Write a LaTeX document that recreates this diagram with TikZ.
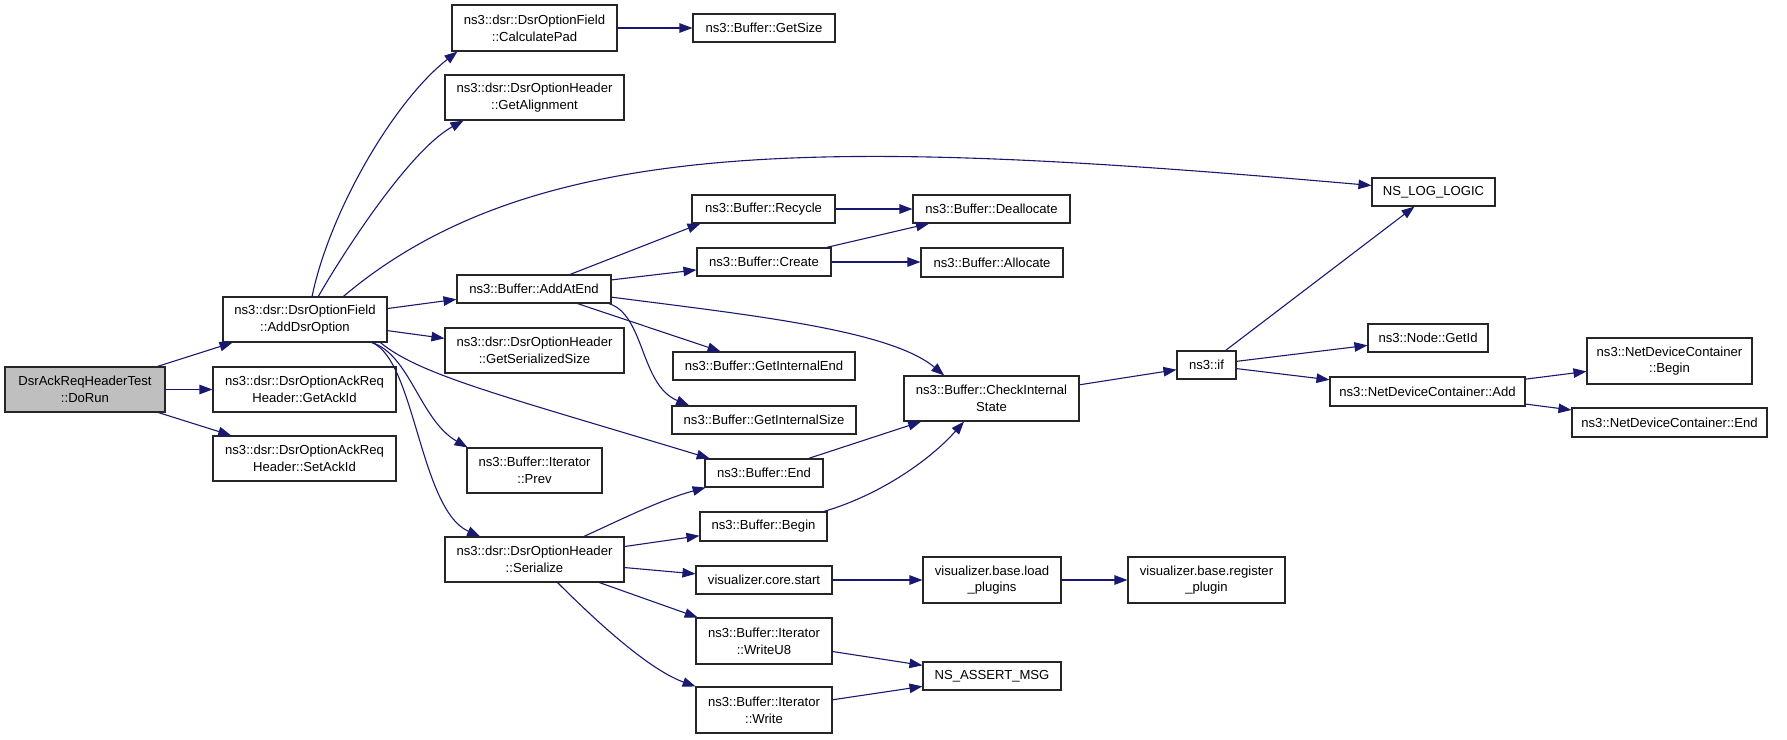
\documentclass[tikz,border=0pt]{standalone}
\usepackage{fontspec}
\setmainfont{Liberation Sans}
\usetikzlibrary{arrows.meta}
\definecolor{edgecol}{HTML}{191970}
\definecolor{rootfill}{HTML}{BFBFBF}
\begin{document}
\begin{tikzpicture}[x=1pt,y=-1pt,
  fn/.style={draw=black!85, line width=1.1pt, fill=white, inner sep=0pt, align=center,
             font=\fontsize{13.1}{16.7}\selectfont},
  root/.style={fn, fill=rootfill},
  call/.style={draw=edgecol, line width=1.1pt, -{Triangle[length=13pt,width=9.5pt,fill=edgecol]}}]
\useasboundingbox (0,0) rectangle (1787,739);

% nodes
\node[root, minimum width=160pt, minimum height=45pt] (dorun) at (85,389.5) {DsrAckReqHeaderTest\\::DoRun};
\node[fn, minimum width=164pt, minimum height=45pt] (add) at (305,319.5) {ns3::dsr::DsrOptionField\\::AddDsrOption};
\node[fn, minimum width=183pt, minimum height=45pt] (getack) at (304.5,389.5) {ns3::dsr::DsrOptionAckReq\\Header::GetAckId};
\node[fn, minimum width=183pt, minimum height=45pt] (setack) at (304.5,458.5) {ns3::dsr::DsrOptionAckReq\\Header::SetAckId};
\node[fn, minimum width=165pt, minimum height=46pt] (calcpad) at (534.5,28) {ns3::dsr::DsrOptionField\\::CalculatePad};
\node[fn, minimum width=142pt, minimum height=28pt] (getsize) at (764,28) {ns3::Buffer::GetSize};
\node[fn, minimum width=179pt, minimum height=45pt] (getalign) at (534.5,97.5) {ns3::dsr::DsrOptionHeader\\::GetAlignment};
\node[fn, minimum width=154pt, minimum height=28pt] (addatend) at (534,289) {ns3::Buffer::AddAtEnd};
\node[fn, minimum width=179pt, minimum height=45pt] (getser) at (534.5,350.5) {ns3::dsr::DsrOptionHeader\\::GetSerializedSize};
\node[fn, minimum width=135pt, minimum height=45pt] (prev) at (534.5,470.5) {ns3::Buffer::Iterator\\::Prev};
\node[fn, minimum width=179pt, minimum height=45pt] (serialize) at (534.5,559.5) {ns3::dsr::DsrOptionHeader\\::Serialize};
\node[fn, minimum width=143pt, minimum height=28pt] (recycle) at (763.5,209) {ns3::Buffer::Recycle};
\node[fn, minimum width=134pt, minimum height=28pt] (create) at (764,262) {ns3::Buffer::Create};
\node[fn, minimum width=182pt, minimum height=28pt] (getintend) at (764,366) {ns3::Buffer::GetInternalEnd};
\node[fn, minimum width=184pt, minimum height=28pt] (getintsize) at (764,420) {ns3::Buffer::GetInternalSize};
\node[fn, minimum width=118pt, minimum height=28pt] (end) at (764,473) {ns3::Buffer::End};
\node[fn, minimum width=127pt, minimum height=29pt] (begin) at (763.5,526.5) {ns3::Buffer::Begin};
\node[fn, minimum width=136pt, minimum height=28pt] (corestart) at (764,580) {visualizer.core.start};
\node[fn, minimum width=136pt, minimum height=46pt] (writeu8) at (764,641) {ns3::Buffer::Iterator\\::WriteU8};
\node[fn, minimum width=136pt, minimum height=46pt] (write) at (764,710) {ns3::Buffer::Iterator\\::Write};
\node[fn, minimum width=157pt, minimum height=28pt] (dealloc) at (991.5,209) {ns3::Buffer::Deallocate};
\node[fn, minimum width=142pt, minimum height=29pt] (alloc) at (992,262.5) {ns3::Buffer::Allocate};
\node[fn, minimum width=175pt, minimum height=45pt] (check) at (991.5,398.5) {ns3::Buffer::CheckInternal\\State};
\node[fn, minimum width=138pt, minimum height=46pt] (loadpl) at (992,580) {visualizer.base.load\\\_plugins};
\node[fn, minimum width=138pt, minimum height=28pt] (assert) at (992,676) {NS\_ASSERT\_MSG};
\node[fn, minimum width=59pt, minimum height=28pt] (nsif) at (1206.5,365) {ns3::if};
\node[fn, minimum width=157pt, minimum height=46pt] (register) at (1206.5,580) {visualizer.base.register\\\_plugin};
\node[fn, minimum width=123pt, minimum height=28pt] (nslog) at (1433.5,192) {NS\_LOG\_LOGIC};
\node[fn, minimum width=120pt, minimum height=28pt] (getid) at (1428,338) {ns3::Node::GetId};
\node[fn, minimum width=195pt, minimum height=29pt] (ndcadd) at (1427.5,391.5) {ns3::NetDeviceContainer::Add};
\node[fn, minimum width=165pt, minimum height=46pt] (ndcbegin) at (1669.5,361) {ns3::NetDeviceContainer\\::Begin};
\node[fn, minimum width=195pt, minimum height=29pt] (ndcend) at (1669.5,422.5) {ns3::NetDeviceContainer::End};

% edges
\draw[call] (dorun) -- (add);
\draw[call] (dorun) -- (getack);
\draw[call] (dorun) -- (setack);

\draw[call] (add.73) .. controls (330,210) and (395,100) .. (calcpad.197);
\draw[call] (add.60) .. controls (345,250) and (410,150) .. (getalign.198);
\draw[call] (add.31) .. controls (540,130) and (850,140) .. (nslog.174);
\draw[call] (add) -- (addatend);
\draw[call] (add) -- (getser);
\draw[call] (add.-19) .. controls (410,355) and (420,420) .. (prev.161);
\draw[call] (add.-19) .. controls (415,360) and (420,510) .. (serialize.157);
\draw[call] (add.-17) .. controls (420,375) and (500,395) .. (end.165);

\draw[call] (addatend.22) -- (recycle.193);
\draw[call] (addatend) -- (create);
\draw[call] (addatend.-6) .. controls (750,315) and (890,330) .. (check.154);
\draw[call] (addatend) -- (getintend);
\draw[call] (addatend.-11) .. controls (645,315) and (640,385) .. (getintsize.169);

\draw[call] (recycle) -- (dealloc);
\draw[call] (create) -- (dealloc);
\draw[call] (create.east) -- (alloc.west |- create.east);
\draw[call] (check) -- (nsif);
\draw[call] (end) -- (check);
\draw[call] (begin.14) .. controls (880,495) and (930,460) .. (check.220);

\draw[call] (nsif) -- (nslog);
\draw[call] (nsif) -- (getid);
\draw[call] (nsif) -- (ndcadd);
\draw[call] (ndcadd) -- (ndcbegin);
\draw[call] (ndcadd) -- (ndcend);

\draw[call] (calcpad) -- (getsize);

\draw[call] (serialize.25) .. controls (620,520) and (660,500) .. (end.194);
\draw[call] (serialize) -- (begin);
\draw[call] (serialize) -- (corestart);
\draw[call] (serialize) -- (writeu8);
\draw[call] (serialize.-45) .. controls (600,625) and (650,670) .. (write.161);

\draw[call] (corestart) -- (loadpl);
\draw[call] (loadpl) -- (register);
\draw[call] (writeu8) -- (assert);
\draw[call] (write) -- (assert);
\end{tikzpicture}
\end{document}
